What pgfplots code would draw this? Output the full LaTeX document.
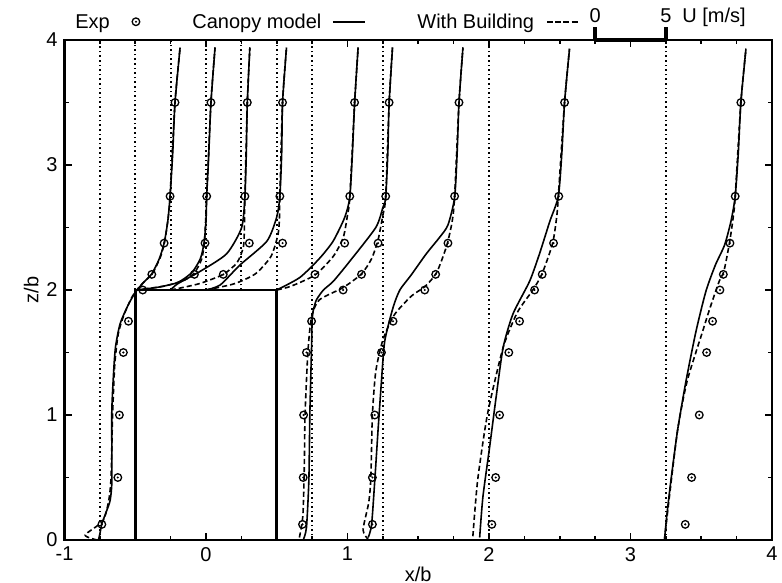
\documentclass[border=0pt]{standalone}
\usepackage{pgfplots}
\pgfplotsset{compat=1.18}
\usepackage{fontspec}
\setmainfont{Liberation Sans}

\pgfdeclareplotmark{odot}{%
  \pgfpathcircle{\pgfpointorigin}{\pgfplotmarksize}\pgfusepathqstroke
  \pgfpathcircle{\pgfpointorigin}{0.3\pgfplotmarksize}\pgfusepathqfill}

\pgfplotsset{
  sol/.style={black, line width=0.8bp, smooth, tension=0.4, no marks},
  das/.style={black, line width=0.8bp, smooth, tension=0.4, no marks, dash pattern=on 2.6bp off 1.5bp},
  dot/.style={black, line width=0.95bp, no marks, dash pattern=on 0.8bp off 1.5bp, forget plot},
  expm/.style={only marks, mark=odot, mark size=1.9bp, black, line width=0.65bp},
}

\begin{document}
\begin{tikzpicture}[font=\fontsize{10bp}{12bp}\selectfont]
\begin{axis}[
  scale only axis, width=353.75bp, height=250bp,
  xmin=-1, xmax=4, ymin=0, ymax=4,
  xtick={-1,0,1,2,3,4}, ytick={0,1,2,3,4},
  minor x tick num=3, minor y tick num=1,
  tick align=inside, major tick length=3.5bp, minor tick length=2bp,
  tick style={line width=0.8bp, black},
  axis line style={line width=1.3bp},
  xlabel={x/b}, ylabel={z/b},
  xlabel shift=-4bp, ylabel shift=-3bp,
  /pgf/number format/assume math mode=true,
  clip=false,
]
\coordinate (O) at (rel axis cs:0,0);

% experimental points
\addplot[expm] coordinates {
(-0.736,0.125) (-0.623,0.5) (-0.612,1.0) (-0.584,1.5) (-0.548,1.75) (-0.447,2.0) (-0.383,2.125) (-0.296,2.375) (-0.254,2.75) (-0.219,3.5)
(-0.082,2.125) (-0.007,2.375) (0.005,2.75) (0.035,3.5)
(0.122,2.125) (0.306,2.375) (0.275,2.75) (0.292,3.5)
(0.541,2.375) (0.522,2.75) (0.541,3.5)
(0.77,2.125) (0.98,2.375) (1.016,2.75) (1.05,3.5)
(0.682,0.125) (0.687,0.5) (0.69,1.0) (0.71,1.5) (0.746,1.75) (0.969,2.0) (1.099,2.125) (1.216,2.375) (1.27,2.75) (1.294,3.5)
(1.176,0.125) (1.176,0.5) (1.193,1.0) (1.24,1.5) (1.322,1.75) (1.546,2.0) (1.623,2.125) (1.71,2.375) (1.757,2.75) (1.788,3.5)
(2.02,0.125) (2.047,0.5) (2.075,1.0) (2.14,1.5) (2.216,1.75) (2.322,2.0) (2.376,2.125) (2.456,2.375) (2.493,2.75) (2.534,3.5)
(3.387,0.125) (3.432,0.5) (3.486,1.0) (3.538,1.5) (3.58,1.75) (3.632,2.0) (3.656,2.125) (3.703,2.375) (3.74,2.75) (3.78,3.5)
};

% station -0.75
\addplot[sol] coordinates {
(-0.76,0) (-0.748,0.06) (-0.736,0.13) (-0.7,0.24) (-0.677,0.32) (-0.665,0.48) (-0.666,1.01) (-0.655,1.3) (-0.64,1.54) (-0.607,1.73) (-0.55,1.88) (-0.5,1.98) (-0.45,2.05) (-0.383,2.13) (-0.33,2.25) (-0.296,2.375) (-0.27,2.55) (-0.254,2.75) (-0.235,3.1) (-0.219,3.5) (-0.183,3.94)};
\addplot[das] coordinates {
(-0.77,0) (-0.854,0.04) (-0.73,0.15) (-0.69,0.3) (-0.672,0.48) (-0.66,1.0) (-0.645,1.4) (-0.62,1.65) (-0.58,1.8) (-0.52,1.95) (-0.46,2.04) (-0.38,2.13) (-0.32,2.27) (-0.29,2.4) (-0.265,2.6) (-0.254,2.75) (-0.219,3.5) (-0.183,3.94)};
% station -0.5
\addplot[sol] coordinates {(-0.5,2.0) (-0.35,2.02) (-0.2,2.06) (-0.1,2.14) (-0.04,2.25) (-0.014,2.375) (0.0,2.55) (0.005,2.75) (0.02,3.1) (0.035,3.5) (0.064,3.94)};
\addplot[das] coordinates {(-0.5,2.0) (-0.3,2.03) (-0.15,2.08) (-0.08,2.14) (-0.03,2.25) (-0.01,2.4) (0.005,2.75) (0.035,3.5) (0.064,3.94)};
% station -0.25
\addplot[sol] coordinates {(-0.25,2.0) (-0.2,2.05) (-0.04,2.15) (0.146,2.29) (0.252,2.5) (0.275,2.75) (0.285,3.1) (0.292,3.5) (0.31,3.94)};
\addplot[das] coordinates {(-0.25,2.0) (-0.05,2.05) (0.122,2.125) (0.22,2.22) (0.265,2.35) (0.272,2.55) (0.275,2.75) (0.292,3.5) (0.31,3.94)};
% station 0
\addplot[sol] coordinates {(0,2.0) (0.1,2.04) (0.24,2.2) (0.43,2.39) (0.499,2.58) (0.522,2.75) (0.535,3.1) (0.541,3.5) (0.569,3.94)};
\addplot[das] coordinates {(0,2.0) (0.2,2.05) (0.35,2.13) (0.46,2.27) (0.51,2.45) (0.52,2.6) (0.522,2.75) (0.541,3.5) (0.569,3.94)};
% station 0.5
\addplot[sol] coordinates {(0.5,2.0) (0.663,2.1) (0.8,2.25) (0.898,2.39) (0.98,2.58) (1.016,2.74) (1.035,3.1) (1.05,3.49) (1.075,3.94)};
\addplot[das] coordinates {(0.5,2.0) (0.6,2.03) (0.77,2.12) (0.9,2.27) (0.97,2.42) (1.0,2.6) (1.016,2.74) (1.05,3.49) (1.075,3.94)};
% station 0.75
\addplot[sol] coordinates {(0.687,0) (0.71,0.1) (0.727,0.48) (0.734,1.01) (0.746,1.54) (0.75,1.75) (0.757,1.83) (0.78,1.92) (0.83,2.0) (0.9,2.07) (1.016,2.23) (1.2,2.5) (1.25,2.66) (1.27,2.74) (1.285,3.1) (1.294,3.49) (1.318,3.94)};
\addplot[das] coordinates {(0.66,0.02) (0.685,0.2) (0.695,0.6) (0.70,1.0) (0.72,1.5) (0.745,1.78) (0.8,1.92) (0.97,2.02) (1.1,2.13) (1.17,2.25) (1.216,2.4) (1.25,2.6) (1.27,2.75) (1.294,3.49) (1.318,3.94)};
% station 1.25
\addplot[sol] coordinates {(1.146,0.02) (1.17,0.12) (1.193,0.48) (1.216,0.88) (1.24,1.27) (1.263,1.59) (1.322,1.86) (1.37,2.0) (1.45,2.12) (1.557,2.29) (1.65,2.42) (1.71,2.52) (1.757,2.74) (1.775,3.1) (1.788,3.5) (1.816,3.94)};
\addplot[das] coordinates {(1.15,0) (1.11,0.08) (1.15,0.3) (1.165,0.5) (1.176,1.0) (1.2,1.35) (1.25,1.6) (1.33,1.8) (1.45,1.95) (1.55,2.03) (1.63,2.14) (1.70,2.35) (1.74,2.55) (1.757,2.75) (1.788,3.5) (1.816,3.94)};
% station 2
\addplot[sol] coordinates {(1.934,0.02) (1.957,0.345) (2.004,0.74) (2.05,1.14) (2.10,1.54) (2.17,1.81) (2.287,2.07) (2.357,2.29) (2.43,2.55) (2.49,2.75) (2.515,3.1) (2.534,3.5) (2.569,3.93)};
\addplot[das] coordinates {(1.886,0.03) (1.92,0.48) (1.99,1.01) (2.10,1.54) (2.2,1.82) (2.31,2.0) (2.375,2.13) (2.45,2.375) (2.48,2.6) (2.49,2.75) (2.534,3.5) (2.569,3.93)};
% station 3.25
\addplot[sol] coordinates {(3.24,0.0) (3.258,0.21) (3.286,0.48) (3.333,0.88) (3.392,1.27) (3.463,1.67) (3.533,1.99) (3.6,2.2) (3.665,2.36) (3.71,2.55) (3.74,2.75) (3.762,3.1) (3.78,3.5) (3.816,3.93)};
\addplot[das] coordinates {(3.24,0.0) (3.27,0.3) (3.333,0.88) (3.40,1.27) (3.51,1.67) (3.56,1.85) (3.627,2.07) (3.66,2.15) (3.70,2.38) (3.728,2.6) (3.74,2.75) (3.78,3.5) (3.816,3.93)};

% zero-velocity reference lines
\addplot[dot] coordinates {(-0.75,0) (-0.75,4)};
\addplot[dot] coordinates {(-0.5,2) (-0.5,4)};
\addplot[dot] coordinates {(-0.25,2) (-0.25,4)};
\addplot[dot] coordinates {(0,2) (0,4)};
\addplot[dot] coordinates {(0.25,2) (0.25,4)};
\addplot[dot] coordinates {(0.5,2) (0.5,4)};
\addplot[dot] coordinates {(0.75,0) (0.75,4)};
\addplot[dot] coordinates {(1.25,0) (1.25,4)};
\addplot[dot] coordinates {(2,0) (2,4)};
\addplot[dot] coordinates {(3.25,0) (3.25,4)};

% building
\addplot[black, line width=1.4bp, no marks] coordinates {(-0.5,0) (-0.5,2) (0.5,2) (0.5,0)};

% key (gnuplot style, above the frame)
\node[anchor=base west, inner sep=0pt] at ([yshift=6bp]axis cs:-0.926,4) {Exp};
\addplot[expm] coordinates {(-0.495,4.146)};
\node[anchor=base west, inner sep=0pt] at ([yshift=6bp]axis cs:-0.099,4) {Canopy model};
\addplot[sol] coordinates {(0.8975,4.146) (1.1237,4.146)};
\node[anchor=base west, inner sep=0pt] at ([yshift=6bp]axis cs:1.491,4) {With Building};
\addplot[das] coordinates {(2.41,4.146) (2.629,4.146)};

% velocity scale bar
\draw[line width=2bp] (axis cs:2.75,4) -- (axis cs:3.25,4);
\draw[line width=2bp] (axis cs:2.75,4) -- ([yshift=6.5bp]axis cs:2.75,4);
\draw[line width=2bp] (axis cs:3.25,4) -- ([yshift=6.5bp]axis cs:3.25,4);
\node[anchor=base, inner sep=0pt] at ([yshift=9bp]axis cs:2.75,4) {0};
\node[anchor=base, inner sep=0pt] at ([yshift=9bp]axis cs:3.25,4) {5};
\node[anchor=base west, inner sep=0pt] at ([yshift=9bp]axis cs:3.364,4) {U [m/s]};
\end{axis}
\pgfresetboundingbox
\path (O) ++(-32.25bp,-21.5bp) rectangle ++(391bp,291.5bp);
\end{tikzpicture}
\end{document}
